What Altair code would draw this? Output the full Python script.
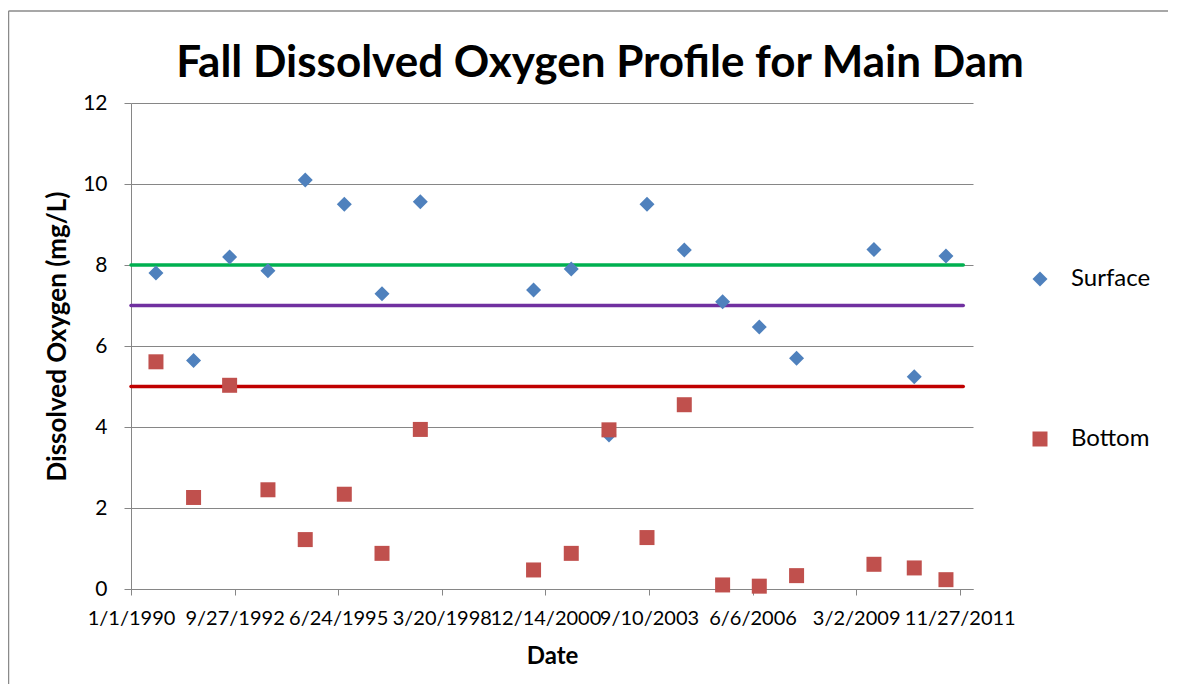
import altair as alt
import pandas as pd

# ---- data ----
dates = ["1990-08-30", "1991-08-28", "1992-08-10", "1993-08-15", "1994-08-10",
         "1995-08-22", "1996-08-20", "1997-08-25", "2000-08-22", "2001-08-21",
         "2002-08-20", "2003-08-22", "2004-08-16", "2005-08-21", "2006-08-10",
         "2007-08-05", "2009-08-21", "2010-09-14", "2011-07-17"]
surface = [7.80, 5.64, 8.20, 7.86, 10.10, 9.50, 7.29, 9.56, 7.38, 7.90,
           3.80, 9.50, 8.37, 7.09, 6.47, 5.70, 8.38, 5.24, 8.22]
bottom = [5.61, 2.26, 5.03, 2.45, 1.22, 2.34, 0.88, 3.94, 0.47, 0.88,
          3.93, 1.27, 4.55, 0.10, 0.07, 0.33, 0.61, 0.52, 0.23]

series_names = ["Surface", "Bottom"]
series_colors = ["#4F81BD", "#C0504D"]
series_shapes = ["diamond", "square"]

thr_values = [8, 7, 5]
thr_colors = ["#00B050", "#7030A0", "#C00000"]
thr_start = "1990-01-01"
thr_end = "2011-12-31"

x_ticks = ["1990-01-01", "1992-09-27", "1995-06-24", "1998-03-20", "2000-12-14",
           "2003-09-10", "2006-06-06", "2009-03-02", "2011-11-27"]
x_domain = ["1990-01-01", "2012-04-03"]
y_ticks = [0, 2, 4, 6, 8, 10, 12]

title_text = "Fall Dissolved Oxygen Profile for Main Dam"
x_title = "Date"
y_title = "Dissolved Oxygen (mg/L)"

FONT = "Lato"
GRAY = "#868686"

# ---- tables ----
pts = pd.DataFrame({
    "date": dates + dates,
    "value": surface + bottom,
    "series": ["Surface"] * len(dates) + ["Bottom"] * len(dates),
})
thr = pd.DataFrame({"start": [thr_start] * 3, "end": [thr_end] * 3,
                    "value": thr_values, "c": thr_colors})
one = pd.DataFrame({"a": [0]})


def dt(s):
    y, m, d = (int(p) for p in s.split("-"))
    return alt.DateTime(year=y, month=m, date=d, utc=True)


xscale = alt.Scale(type="utc", domain=[dt(s) for s in x_domain])
yscale = alt.Scale(domain=[0, 12], nice=False, zero=True)

xaxis = alt.Axis(
    values=[dt(s) for s in x_ticks],
    labelExpr="utcFormat(datum.value, '%-m/%-d/%Y')",
    grid=False, domainColor=GRAY, domainWidth=1, tickColor=GRAY, tickSize=6,
    labelFont=FONT, labelFontSize=20, labelColor="black", labelPadding=13,
    labelOverlap=False, labelFlush=False, labelBound=False,
    title=x_title, titleFont=FONT, titleFontSize=24, titleFontWeight="bold",
    titleColor="black", titleX=421, titleY=74.5, titleBaseline="alphabetic",
    titleAlign="center",
)
yaxis = alt.Axis(
    values=y_ticks, grid=True, gridColor=GRAY, gridWidth=1,
    domainColor=GRAY, domainWidth=1, tickColor=GRAY, tickSize=7,
    labelFont=FONT, labelFontSize=21, labelColor="black", labelPadding=17,
    title=y_title, titleFont=FONT, titleFontSize=26, titleFontWeight="bold",
    titleColor="black", titleAngle=270, titleX=-65.7, titleY=233,
    titleBaseline="alphabetic", titleAlign="center",
)

legend = alt.Legend(
    title=None, orient="none", legendX=897, legendY=164, padding=0, offset=0,
    labelFont=FONT, labelFontSize=24, labelColor="black", rowPadding=136,
    labelOffset=19, symbolSize=225, symbolStrokeWidth=0,
)

border_v = alt.Chart(one).mark_rule(color="#8A8A8A", strokeWidth=1.5).encode(
    x=alt.value(-122.5), y=alt.value(-92), y2=alt.value(581))
border_h = alt.Chart(one).mark_rule(color="#8A8A8A", strokeWidth=1.5).encode(
    y=alt.value(-92), x=alt.value(-122.5), x2=alt.value(1037))

title = alt.Chart(one).mark_text(
    font=FONT, fontSize=44, fontWeight="bold", align="center",
    baseline="alphabetic", color="black").encode(
    x=alt.value(469), y=alt.value(-26), text=alt.value(title_text))

rules = alt.Chart(thr).mark_rule(strokeWidth=3.5, strokeCap="round").encode(
    x=alt.X("start:T", scale=xscale, axis=xaxis),
    x2="end:T",
    y=alt.Y("value:Q", scale=yscale, axis=yaxis),
    color=alt.Color("c:N", scale=None),
)

points = alt.Chart(pts).mark_point(filled=True, size=225, opacity=1).encode(
    x=alt.X("date:T", scale=xscale, axis=xaxis),
    y=alt.Y("value:Q", scale=yscale, axis=yaxis),
    color=alt.Color("series:N", scale=alt.Scale(domain=series_names, range=series_colors),
                    legend=legend),
    shape=alt.Shape("series:N", scale=alt.Scale(domain=series_names, range=series_shapes),
                    legend=legend),
)

chart = alt.layer(border_v, border_h, title, rules, points).properties(
    width=842, height=486,
    padding={"left": 123, "top": 95, "right": 195, "bottom": 95},
    autosize=alt.AutoSizeParams(type="none"),
).configure_view(stroke=None)

chart.save("out.html", embed_options={"renderer": "svg", "actions": False})
